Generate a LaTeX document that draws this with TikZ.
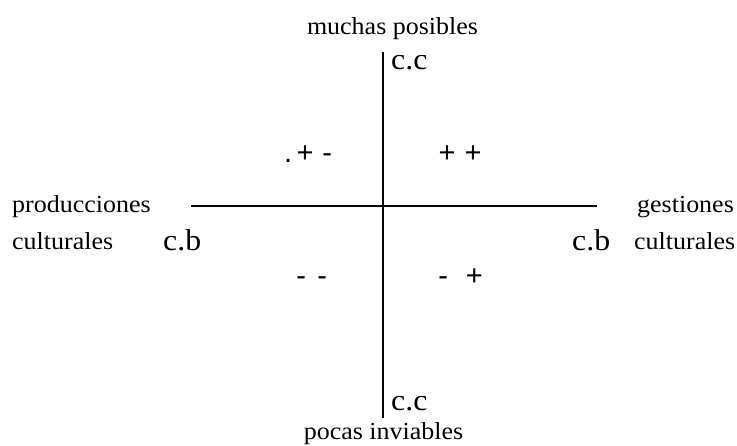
\documentclass[tikz,border=0pt]{standalone}
\usepackage{fontspec}
\setmainfont{Liberation Serif}[FakeStretch=1.06]
\newfontfamily\signfont{Liberation Sans}
\begin{document}
\begin{tikzpicture}[x=1pt,y=-1pt,
  lbl/.style={inner sep=0pt,font=\fontsize{24.5}{28}\selectfont},
  cc/.style={inner sep=0pt,font=\fontsize{30}{34}\selectfont},
  sgn/.style={inner sep=0pt,anchor=base west,font=\signfont\fontsize{29}{32}\selectfont},
  axis/.style={line width=2pt}]
\useasboundingbox (0,0) rectangle (737,446);
% axes
\coordinate (ytop) at (383.3,52);
\coordinate (ybot) at (383.3,418);
\coordinate (xl) at (190.5,206.5);
\coordinate (xr) at (596.5,206.5);
\draw[axis] (ytop) -- (ybot);
\draw[axis] (xl) -- (xr);
% labels
\node[lbl,anchor=base] (muchas) at (392.5,35) {muchas posibles};
\node[lbl,anchor=base] (pocas) at (383.5,439) {pocas inviables};
\node[lbl,anchor=base west] (prod) at (12,213) {producciones};
\node[lbl,anchor=base west] (cultl) at (12,250) {culturales};
\node[lbl,anchor=base west] (gest) at (637,213) {gestiones};
\node[lbl,anchor=base west] (cultr) at (634,250) {culturales};
\node[cc,anchor=base west] (cctop) at (391,70) {c.c};
\node[cc,anchor=base west] (ccbot) at (391,411) {c.c};
\node[cc,anchor=base west] (cbl) at (163,251) {c.b};
\node[cc,anchor=base west] (cbr) at (572,251) {c.b};
% quadrant signs
\node[sgn] (q2) at (284,162.5) {.\hspace{4.4pt}+\hspace{8.8pt}-};
\node[sgn] (q1) at (438.5,162.5) {+\hspace{9.1pt}+};
\node[sgn] (q3) at (296.2,285.5) {-\hspace{11.4pt}-};
\node[sgn] (q4) at (438.2,285.5) {-\hspace{17.7pt}+};
\end{tikzpicture}
\end{document}
